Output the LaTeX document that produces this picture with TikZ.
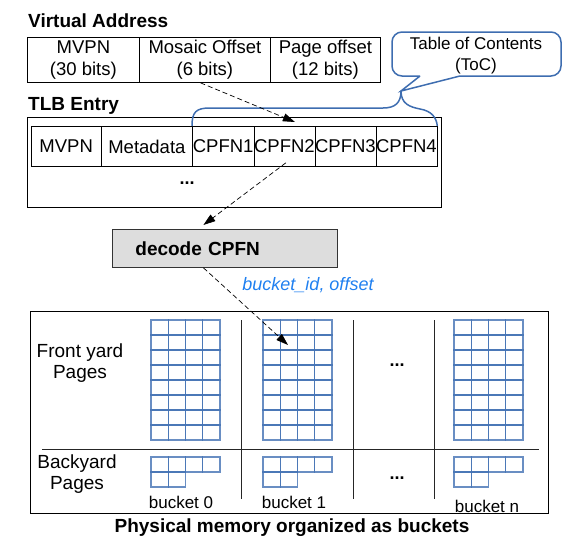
\documentclass[tikz,border=0pt]{standalone}
\usepackage{fontspec}
\setmainfont{Liberation Sans}
\usetikzlibrary{arrows.meta}
\definecolor{tocblue}{HTML}{3E6DB0}
\definecolor{pageblue}{HTML}{4472B4}
\definecolor{idblue}{HTML}{2080F0}
\definecolor{decodegray}{HTML}{DDDDDD}

\begin{document}
\begin{tikzpicture}[x=1pt, y=-1pt,
		field/.style={draw, line width=0.8pt, inner sep=0pt, align=center, anchor=north west, font=\fontsize{18.5}{22}\selectfont},
		title/.style={inner sep=0pt, font=\fontsize{19}{23}\selectfont\bfseries},
		txt/.style={inner sep=0pt, align=center, font=\fontsize{19}{21}\selectfont},
		small/.style={inner sep=0pt, font=\fontsize{17}{21}\selectfont},
		tocline/.style={draw=tocblue, line width=1.5pt},
		ptr/.style={-{Triangle[length=12pt,width=8pt]}, dash pattern=on 5pt off 3pt, line width=0.7pt},
		cell/.style={draw=pageblue, draw opacity=0.8, line width=1.2pt},
		sep/.style={draw=black!85, line width=0.9pt}]
		\useasboundingbox (0,0) rectangle (576,552);

		% virtual address
		\node[title, anchor=west] (vatitle) at (28,21) {Virtual Address};
		\node[field, minimum width=112pt, minimum height=45pt] (vmvpn) at (27,37) {MVPN\\(30 bits)};
		\node[field, minimum width=131pt, minimum height=45pt] (vmosaic) at (139,37) {Mosaic Offset\\(6 bits)};
		\node[field, minimum width=110pt, minimum height=45pt] (vpage) at (270,37) {Page offset\\(12 bits)};

		% table of contents
		\coordinate (tip) at (401,91);
		\draw[tocline] (420,76) -- (tip) -- (460,76) [rounded corners=10pt] -- (561,76) -- (561,32) -- (392,32) -- (392,76) -- (420,76);
		\node[small, align=center] (toc) at (476,56) {Table of Contents\\(ToC)};

		% TLB entry
		\node[title, anchor=west] (tlbtitle) at (28,106) {TLB Entry};
		\node[field, minimum width=414pt, minimum height=90pt] (tlb) at (27,117) {};
		\node[field, minimum width=70.5pt, minimum height=40pt] (tmvpn) at (30.5,126) {MVPN};
		\node[field, minimum width=91pt, minimum height=40pt] (meta) at (101,126) {Metadata};
		\node[field, minimum width=61.5pt, minimum height=40pt] (cpfn1) at (192,126) {CPFN1};
		\node[field, minimum width=61pt, minimum height=40pt] (cpfn2) at (253.5,126) {CPFN2};
		\node[field, minimum width=61pt, minimum height=40pt] (cpfn3) at (314.5,126) {CPFN3};
		\node[field, minimum width=61pt, minimum height=40pt] (cpfn4) at (375.5,126) {CPFN4};
		\node[txt, font=\fontsize{18}{21}\selectfont\bfseries] (tlbdots) at (187,183) {...};

		% brace over the CPFNs
		\draw[tocline] (cpfn1.north west) .. controls (192,112) and (196,108) .. (210,108) -- (383,108)
			.. controls (395,108) and (401,103) .. (tip)
			.. controls (401,104) and (410,107) .. (420,109)
			.. controls (432,111) and (436.5,118) .. (cpfn4.north east);

		% decode
		\node[draw=black!80, fill=decodegray, line width=0.8pt, anchor=north west, minimum height=38pt,
			text width=179pt, inner xsep=23pt, inner ysep=0pt, align=left,
			font=\fontsize{19}{23}\selectfont\bfseries] (decode) at (112,229) {decode CPFN};
		\node[inner sep=0pt, text=idblue, font=\fontsize{18}{21}\selectfont\itshape] (bid) at (308,285) {bucket\_id, offset};

		% physical memory
		\node[draw, line width=0.8pt, anchor=north west, minimum width=518pt, minimum height=202pt] (mem) at (30,311) {};
		\draw[sep] (241,320) -- (241,499);
		\draw[sep] (353,320) -- (353,499);
		\draw[sep] (434,320) -- (434,499);
		\draw[sep] (42,449) -- (539,449);

		% buckets
		\foreach \gx in {151,263,454} {
			\foreach \i in {0,...,3}
				\foreach \j in {0,...,7}
					\draw[cell] (\gx+\i*17.25, 320+\j*15) rectangle ++(17.25,15);
			\foreach \i in {0,...,3}
				\draw[cell] (\gx+\i*17.25, 457) rectangle ++(17.25,15);
			\foreach \i in {0,1}
				\draw[cell] (\gx+\i*17.25, 472) rectangle ++(17.25,15);
		}
		\coordinate (hit) at (288,345);

		\node[txt] (front) at (80,363) {Front yard\\Pages};
		\node[txt] (back) at (77,474) {Backyard\\Pages};
		\node[txt, font=\fontsize{18}{21}\selectfont\bfseries] (frontdots) at (397,365) {...};
		\node[txt, font=\fontsize{18}{21}\selectfont\bfseries] (backdots) at (397,478) {...};
		\node[small] (b0) at (181,502) {bucket 0};
		\node[small] (b1) at (294,502) {bucket 1};
		\node[small] (bn) at (487,506) {bucket n};
		\node[title] (memtitle) at (292,528) {Physical memory organized as buckets};

		% pointers
		\draw[ptr] ([xshift=-4.5pt]vmosaic.south) -- ([xshift=10.5pt,yshift=4pt]cpfn2.north);
		\draw[ptr] ([xshift=1.5pt,yshift=4pt]cpfn2.south) -- ([xshift=-21.5pt,yshift=4pt]decode.north);
		\draw[ptr] ([xshift=-21.5pt]decode.south) -- (hit);
	\end{tikzpicture}
\end{document}
